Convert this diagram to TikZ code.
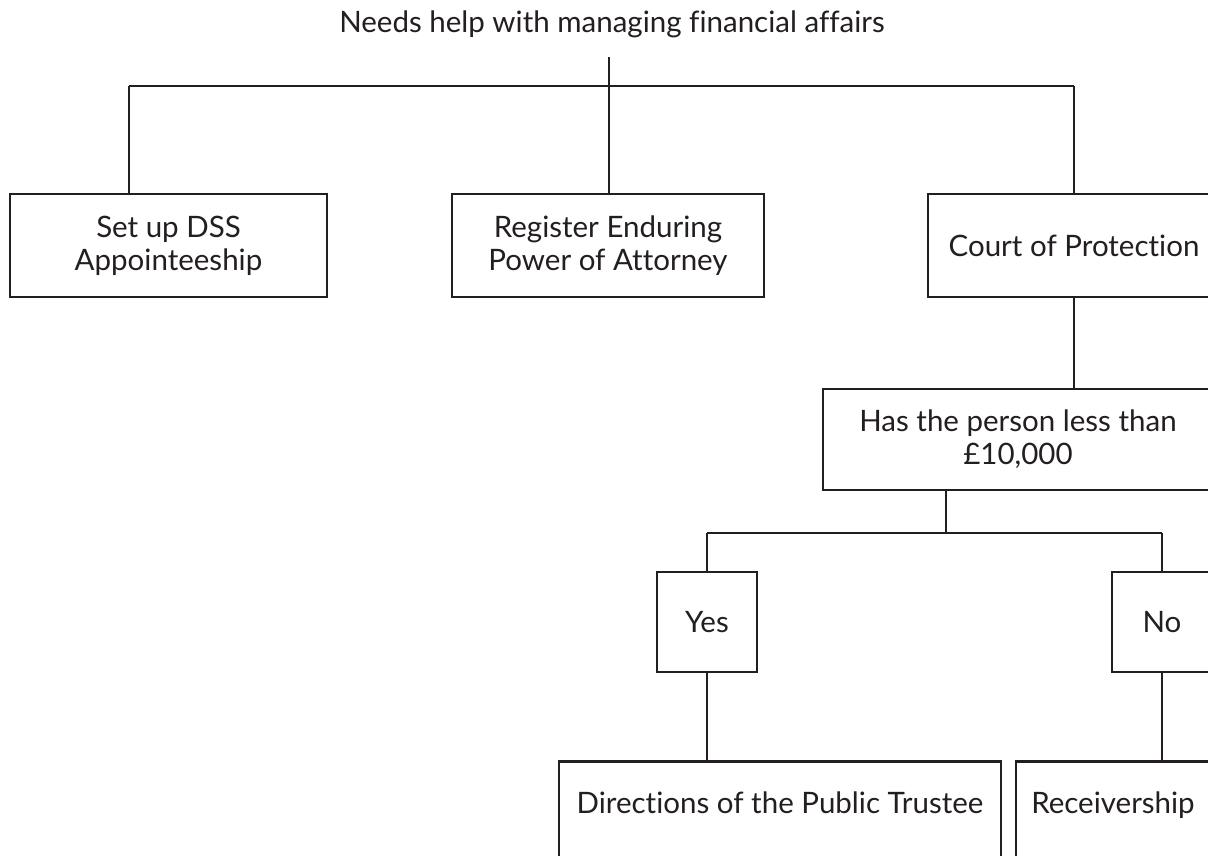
\documentclass[tikz,border=0pt]{standalone}
\usepackage{fontspec}
\setmainfont{Lato}[Ligatures=NoCommon]
\definecolor{ink}{HTML}{231F20}
\begin{document}
\begin{tikzpicture}[x=1pt,y=-1pt,
  every node/.style={font=\fontsize{29.5}{33}\selectfont, text=ink},
  box/.style={draw=ink, line width=2.6pt, align=center, inner sep=0pt},
  conn/.style={draw=ink, line width=2.2pt}]
\clip (0,0) rectangle (1208,855);
\fill[white] (0,0) rectangle (1208,855);
\node (title) at (612,24) {Needs help with managing financial affairs};
\node[box, minimum width=317, minimum height=103] (b1) at (168.5,245.5) {Set up DSS\\Appointeeship};
\node[box, minimum width=312, minimum height=103] (b2) at (608,245.5) {Register Enduring\\Power of Attorney};
\node[box, minimum width=292, minimum height=103] (b3) at (1074,245.5) {Court of Protection};
\node[box, minimum width=390, minimum height=101] (b4) at (1018,439.5) {Has the person less than\\\pounds10,000};
\node[box, minimum width=100, minimum height=100] (yes) at (707,622) {Yes};
\node[box, minimum width=100, minimum height=100] (no) at (1162,622) {No};
\node[box, anchor=north, minimum width=442, text height=52pt, text depth=60pt] (dir) at (780,760) {Directions of the Public Trustee};
\node[box, anchor=north, minimum width=194, text height=52pt, text depth=60pt] (rec) at (1113,760) {Receivership};
\coordinate (top) at (609,57);
\coordinate (hl) at (129,86);
\coordinate (hr) at (1074,86);
\coordinate (m) at (946,533);
\coordinate (ml) at (707,533);
\coordinate (mr) at (1162,533);
\draw[conn] (top) -- (top |- b2.north);
\draw[conn] (hl) -- (hr);
\draw[conn] (hl) -- (hl |- b1.north);
\draw[conn] (hr) -- (hr |- b3.north);
\draw[conn] (b3.south) -- (b3.south |- b4.north);
\draw[conn] (m |- b4.south) -- (m);
\draw[conn] (ml) -- (mr);
\draw[conn] (ml) -- (yes.north);
\draw[conn] (mr) -- (no.north);
\draw[conn] (yes.south) -- (yes.south |- dir.north);
\draw[conn] (no.south) -- (no.south |- rec.north);
\end{tikzpicture}
\end{document}
